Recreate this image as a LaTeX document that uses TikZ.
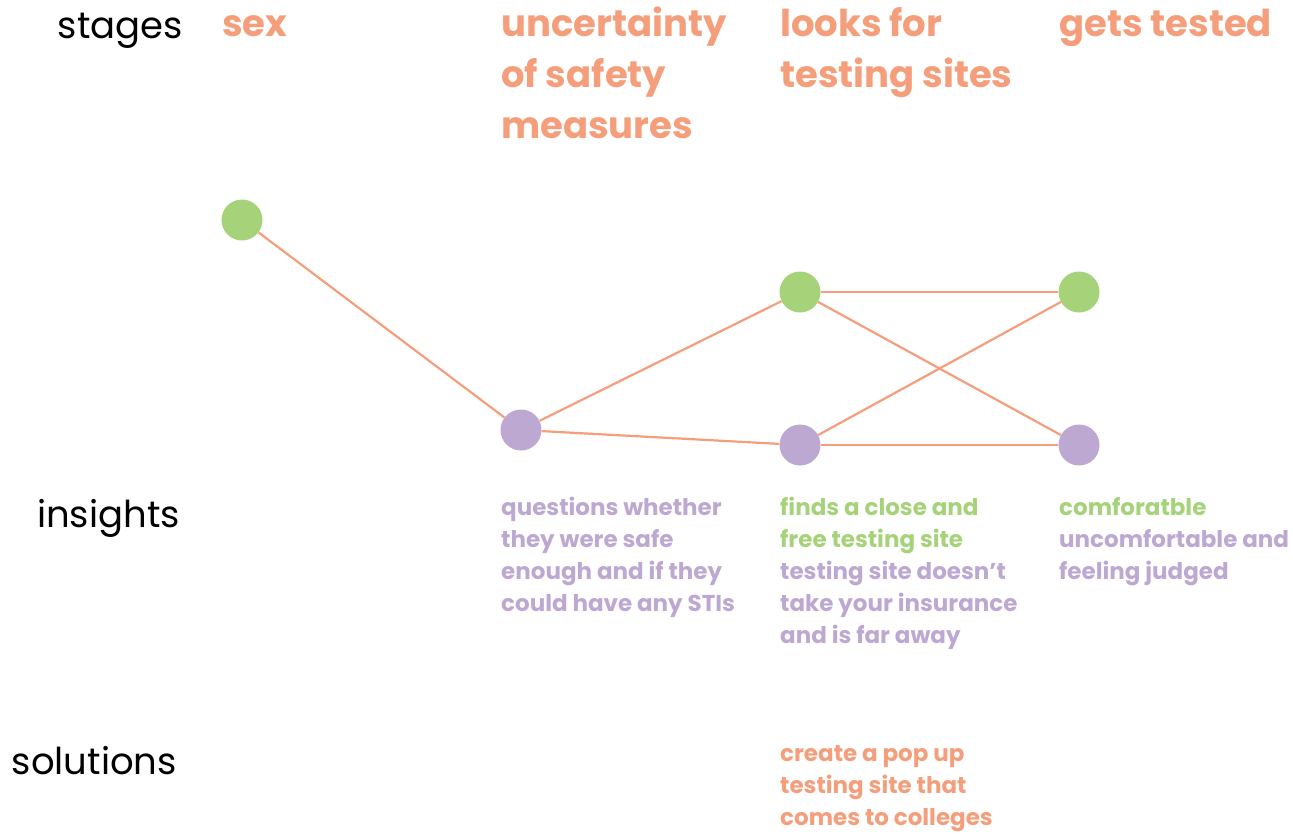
\documentclass[tikz,border=0pt]{standalone}
\usepackage{fontspec}
\setmainfont{Poppins}
\definecolor{stageorange}{HTML}{F59E7B}
\definecolor{goodgreen}{HTML}{A6D27A}
\definecolor{badpurple}{HTML}{BDA8D2}
\begin{document}
\begin{tikzpicture}[x=1pt, y=-1pt,
    rowlabel/.style={anchor=base east, font=\fontsize{37}{44}\selectfont, text=black, inner sep=0pt},
    stagetitle/.style={anchor=north west, align=left, inner sep=0pt, text=stageorange, font=\fontsize{37}{51}\selectfont\bfseries},
    insight/.style={anchor=north west, align=left, inner sep=0pt, font=\fontsize{23}{32}\selectfont\bfseries},
    good/.style={draw=none, circle, fill=goodgreen, minimum size=41pt, inner sep=0pt},
    bad/.style={draw=none, circle, fill=badpurple, minimum size=41pt, inner sep=0pt},
    link/.style={draw=stageorange, line width=2.2pt}]
            \useasboundingbox (0,0) rectangle (1293,835);
            % Row labels
            \node[rowlabel] (Lstages) at (183,38) {stages};
            \node[rowlabel] (Linsights) at (180,527) {insights};
            \node[rowlabel] (Lsolutions) at (177,774) {solutions};

            % Stages
            \node[stagetitle] (S1) at (222,1) {\strut sex};
            \node[stagetitle] (S2) at (501,1) {\strut uncertainty\\of safety\\measures};
            \node[stagetitle] (S3) at (780,1) {\strut looks for\\testing sites};
            \node[stagetitle] (S4) at (1059,1) {\strut gets tested};

            % Journey points
            \node[good] (G1) at (242,220) {};
            \node[bad] (P2) at (521,430) {};
            \node[good] (G3) at (800,292) {};
            \node[bad] (P3) at (800,445) {};
            \node[good] (G4) at (1079,292) {};
            \node[bad] (P4) at (1079,445) {};

            % Insights
            \node[insight, text=badpurple] (I2) at (501,493) {\strut questions whether\\they were safe\\enough and if they\\could have any STIs};
            \node[insight] (I3) at (780,493) {\strut\textcolor{goodgreen}{finds a close and}\\\textcolor{goodgreen}{free testing site}\\\textcolor{badpurple}{testing site doesn’t}\\\textcolor{badpurple}{take your insurance}\\\textcolor{badpurple}{and is far away}};
            \node[insight] (I4) at (1059,493) {\strut\textcolor{goodgreen}{comforatble}\\\textcolor{badpurple}{uncomfortable and}\\\textcolor{badpurple}{feeling judged}};

            % Solutions
            \node[insight, text=stageorange] (R3) at (780,739) {\strut create a pop up\\testing site that\\comes to colleges};

            % Connections between points
            \draw[link] (G1) -- (P2);
            \draw[link] (P2) -- (G3);
            \draw[link] (P2) -- (P3);
            \draw[link] (G3) -- (G4);
            \draw[link] (G3) -- (P4);
            \draw[link] (P3) -- (G4);
            \draw[link] (P3) -- (P4);
        \end{tikzpicture}
\end{document}
